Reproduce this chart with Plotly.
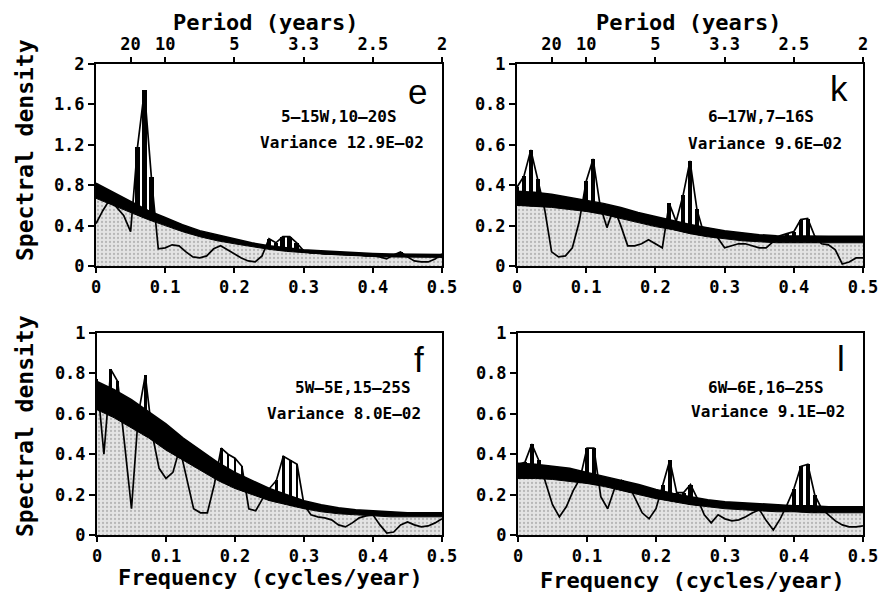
import plotly.graph_objects as go

# ---------------- data ----------------
FREQ = [i / 100 for i in range(51)]          # cycles/year, spectral estimates
BAND_FREQ = [i / 40 for i in range(21)]      # cycles/year, red-noise band

SPEC_E = [0.42, 0.55, 0.66, 0.58, 0.50, 0.34, 1.18, 1.74, 0.88, 0.17,
          0.18, 0.21, 0.20, 0.14, 0.09, 0.08, 0.10, 0.17, 0.20, 0.16,
          0.12, 0.08, 0.05, 0.04, 0.10, 0.27, 0.23, 0.29, 0.29, 0.23,
          0.15, 0.13, 0.13, 0.12, 0.12, 0.12, 0.12, 0.11, 0.11, 0.10,
          0.10, 0.09, 0.07, 0.11, 0.14, 0.09, 0.05, 0.04, 0.04, 0.07,
          0.12]
BAND_HI_E = [0.82, 0.73, 0.64, 0.55, 0.48, 0.41, 0.35, 0.31, 0.27, 0.23, 0.20,
             0.18, 0.16, 0.15, 0.14, 0.13, 0.125, 0.12, 0.12, 0.115, 0.115]
BAND_LO_E = [0.67, 0.60, 0.53, 0.46, 0.40, 0.34, 0.29, 0.25, 0.22, 0.19, 0.165,
             0.145, 0.13, 0.12, 0.11, 0.10, 0.095, 0.09, 0.09, 0.085, 0.085]

SPEC_K = [0.39, 0.445, 0.575, 0.43, 0.28, 0.07, 0.045, 0.05, 0.09, 0.22,
          0.42, 0.53, 0.30, 0.19, 0.29, 0.20, 0.10, 0.10, 0.11, 0.13,
          0.11, 0.09, 0.31, 0.22, 0.35, 0.52, 0.28, 0.16, 0.15, 0.14,
          0.09, 0.10, 0.11, 0.11, 0.10, 0.09, 0.09, 0.12, 0.15, 0.16,
          0.17, 0.23, 0.235, 0.15, 0.11, 0.105, 0.08, 0.01, 0.02, 0.04,
          0.04]
BAND_HI_K = [0.37, 0.365, 0.355, 0.34, 0.325, 0.31, 0.29, 0.265, 0.245, 0.225, 0.205,
             0.19, 0.175, 0.165, 0.155, 0.15, 0.148, 0.147, 0.147, 0.147, 0.147]
BAND_LO_K = [0.30, 0.295, 0.29, 0.28, 0.27, 0.255, 0.235, 0.215, 0.195, 0.18, 0.16,
             0.145, 0.135, 0.125, 0.12, 0.115, 0.115, 0.115, 0.115, 0.115, 0.115]

SPEC_F = [0.77, 0.40, 0.82, 0.76, 0.45, 0.13, 0.60, 0.79, 0.50, 0.33,
          0.28, 0.31, 0.43, 0.28, 0.13, 0.11, 0.11, 0.25, 0.43, 0.40,
          0.38, 0.34, 0.13, 0.12, 0.18, 0.23, 0.27, 0.39, 0.37, 0.35,
          0.15, 0.10, 0.09, 0.085, 0.075, 0.05, 0.04, 0.06, 0.085, 0.095,
          0.10, 0.05, 0.01, 0.015, 0.05, 0.065, 0.05, 0.04, 0.045, 0.06,
          0.08]
BAND_HI_F = [0.76, 0.72, 0.67, 0.61, 0.55, 0.48, 0.42, 0.36, 0.31, 0.27, 0.23,
             0.20, 0.17, 0.15, 0.135, 0.125, 0.12, 0.115, 0.11, 0.11, 0.11]
BAND_LO_F = [0.62, 0.58, 0.53, 0.48, 0.42, 0.37, 0.32, 0.27, 0.23, 0.20, 0.17,
             0.15, 0.13, 0.115, 0.105, 0.10, 0.095, 0.09, 0.09, 0.09, 0.09]

SPEC_L = [0.35, 0.36, 0.45, 0.37, 0.26, 0.15, 0.09, 0.14, 0.22, 0.28,
          0.43, 0.43, 0.19, 0.13, 0.23, 0.27, 0.25, 0.18, 0.11, 0.08,
          0.13, 0.25, 0.37, 0.21, 0.21, 0.25, 0.18, 0.10, 0.06, 0.10,
          0.08, 0.07, 0.075, 0.09, 0.11, 0.125, 0.07, 0.025, 0.08, 0.15,
          0.23, 0.34, 0.35, 0.20, 0.13, 0.10, 0.07, 0.05, 0.04, 0.04,
          0.045]
BAND_HI_L = [0.355, 0.35, 0.34, 0.33, 0.31, 0.29, 0.27, 0.25, 0.225, 0.205, 0.19,
             0.175, 0.165, 0.16, 0.155, 0.15, 0.145, 0.145, 0.14, 0.14, 0.14]
BAND_LO_L = [0.28, 0.28, 0.275, 0.265, 0.255, 0.24, 0.22, 0.20, 0.18, 0.165, 0.15,
             0.14, 0.13, 0.125, 0.12, 0.115, 0.115, 0.11, 0.11, 0.11, 0.11]

FREQ_TICKS = [0, 0.1, 0.2, 0.3, 0.4, 0.5]
FREQ_TICK_TEXT = ["0", "0.1", "0.2", "0.3", "0.4", "0.5"]
PERIOD_TICKS = [0.05, 0.1, 0.2, 0.3, 0.4, 0.5]
PERIOD_TICK_TEXT = ["20", "10", "5", "3.3", "2.5", "2"]
Y_TICKS_E = [0, 0.4, 0.8, 1.2, 1.6, 2]
Y_TICK_TEXT_E = ["0", "0.4", "0.8", "1.2", "1.6", "2"]
Y_TICKS = [0, 0.2, 0.4, 0.6, 0.8, 1]
Y_TICK_TEXT = ["0", "0.2", "0.4", "0.6", "0.8", "1"]

# ---------------- layout helpers ----------------
W, H = 879, 593
def px(x):
    return x / W
def py(y):
    return 1 - y / H

MONO = "DejaVu Sans Mono"
SANS = "Liberation Sans"

panels = [
    dict(key="e", spec=SPEC_E, lo=BAND_LO_E, hi=BAND_HI_E, n=1, top=5, ymax=2,
         yt=Y_TICKS_E, ytt=Y_TICK_TEXT_E, xd=[96, 442], yd=[64, 266], bw=0.007,
         region="5–15W,10–20S", var="Variance 12.9E–02",
         letter_xy=(417, 113), l1=(339, 117), l2=(342, 142)),
    dict(key="k", spec=SPEC_K, lo=BAND_LO_K, hi=BAND_HI_K, n=2, top=6, ymax=1,
         yt=Y_TICKS, ytt=Y_TICK_TEXT, xd=[517, 863], yd=[64, 266], bw=0.006,
         region="6–17W,7–16S", var="Variance 9.6E–02",
         letter_xy=(839, 110), l1=(761, 117), l2=(765, 143)),
    dict(key="f", spec=SPEC_F, lo=BAND_LO_F, hi=BAND_HI_F, n=3, top=None, ymax=1,
         yt=Y_TICKS, ytt=Y_TICK_TEXT, xd=[97, 442], yd=[333, 535], bw=0.004,
         region="5W–5E,15–25S", var="Variance 8.0E–02",
         letter_xy=(419, 381), l1=(353, 387), l2=(344, 413)),
    dict(key="l", spec=SPEC_L, lo=BAND_LO_L, hi=BAND_HI_L, n=4, top=None, ymax=1,
         yt=Y_TICKS, ytt=Y_TICK_TEXT, xd=[518, 863], yd=[333, 535], bw=0.006,
         region="6W–6E,16–25S", var="Variance 9.1E–02",
         letter_xy=(841, 380), l1=(766, 387), l2=(768, 411)),
]

fig = go.Figure()
layout = dict(width=W, height=H, margin=dict(l=0, r=0, t=0, b=0, autoexpand=False),
              paper_bgcolor="white", plot_bgcolor="white", showlegend=False)
annotations = []

tickfont = dict(family=MONO, size=17, color="black", weight="bold")

for p in panels:
    n = p["n"]
    xa = "x" if n == 1 else f"x{n}"
    ya = "y" if n == 1 else f"y{n}"
    # bars (hidden under shading/band except where the spectrum exceeds the band)
    fig.add_trace(go.Bar(x=FREQ, y=p["spec"], width=p["bw"], marker=dict(color="black", line=dict(width=0)),
                         xaxis=xa, yaxis=ya, hoverinfo="skip"))
    # shaded area under the background band
    fig.add_trace(go.Scatter(x=BAND_FREQ, y=p["lo"], mode="lines", line=dict(color="black", width=1),
                             fill="tozeroy", fillcolor="#dedede",
                             fillpattern=dict(shape=".", bgcolor="#e4e4e4", fgcolor="#8a8a8a", size=4, solidity=0.25),
                             xaxis=xa, yaxis=ya, hoverinfo="skip"))
    # thick background band
    fig.add_trace(go.Scatter(x=BAND_FREQ, y=p["hi"], mode="lines", line=dict(color="black", width=1.5),
                             fill="tonexty", fillcolor="black", xaxis=xa, yaxis=ya, hoverinfo="skip"))
    # spectrum line
    sx = f"x{p['top']}" if p["top"] else xa
    fig.add_trace(go.Scatter(x=FREQ, y=p["spec"], mode="lines", line=dict(color="black", width=1.7),
                             xaxis=sx, yaxis=ya, hoverinfo="skip"))

    xname = "xaxis" if n == 1 else f"xaxis{n}"
    yname = "yaxis" if n == 1 else f"yaxis{n}"
    layout[xname] = dict(domain=[px(p["xd"][0]), px(p["xd"][1])], anchor=ya, range=[0, 0.5],
                         tickvals=FREQ_TICKS, ticktext=FREQ_TICK_TEXT, ticks="outside", ticklen=5,
                         tickwidth=1.5, tickcolor="black", showline=True, linewidth=2, linecolor="black",
                         mirror=True, showgrid=False, zeroline=False, tickfont=tickfont, fixedrange=True,
                         automargin=False)
    layout[yname] = dict(domain=[py(p["yd"][1]), py(p["yd"][0])], anchor=xa, range=[0, p["ymax"]],
                         tickvals=p["yt"], ticktext=p["ytt"], ticks="outside", ticklen=6,
                         tickwidth=1.5, tickcolor="black", showline=True, linewidth=2, linecolor="black",
                         mirror=True, showgrid=False, zeroline=False, tickfont=tickfont, fixedrange=True,
                         automargin=False)
    if p["top"]:
        layout[f"xaxis{p['top']}"] = dict(overlaying=xa, anchor=ya, side="top", range=[0, 0.5],
                                          tickvals=PERIOD_TICKS, ticktext=PERIOD_TICK_TEXT, ticks="outside",
                                          ticklen=5, tickwidth=1.5, tickcolor="black", showline=True,
                                          linewidth=2, linecolor="black", showgrid=False, zeroline=False,
                                          tickfont=tickfont, fixedrange=True, automargin=False)

    lx, lyb = p["letter_xy"]
    annotations.append(dict(x=px(lx), y=py(lyb), xref="paper", yref="paper", text=p["key"],
                            showarrow=False, xanchor="center", yanchor="bottom",
                            font=dict(family=SANS, size=35, color="black")))
    annotations.append(dict(x=px(p["l1"][0]), y=py(p["l1"][1]), xref="paper", yref="paper", text=p["region"],
                            showarrow=False, xanchor="center", yanchor="middle",
                            font=dict(family=MONO, size=16, color="black", weight="bold")))
    annotations.append(dict(x=px(p["l2"][0]), y=py(p["l2"][1]), xref="paper", yref="paper", text=p["var"],
                            showarrow=False, xanchor="center", yanchor="middle",
                            font=dict(family=MONO, size=16, color="black", weight="bold")))

title_font = dict(family=MONO, size=22, color="black", weight="bold")
for (x, y) in [(265, 22), (688, 22)]:
    annotations.append(dict(x=px(x), y=py(y), xref="paper", yref="paper", text="Period (years)",
                            showarrow=False, xanchor="center", yanchor="middle", font=title_font))
for (x, y) in [(270, 577), (692, 580)]:
    annotations.append(dict(x=px(x), y=py(y), xref="paper", yref="paper", text="Frequency (cycles/year)",
                            showarrow=False, xanchor="center", yanchor="middle", font=title_font))
for (x, y) in [(25, 150), (25, 426)]:
    annotations.append(dict(x=px(x), y=py(y), xref="paper", yref="paper", text="Spectral density",
                            showarrow=False, xanchor="center", yanchor="middle", textangle=-90,
                            font=dict(family=MONO, size=23, color="black", weight="bold")))

layout["annotations"] = annotations
layout["bargap"] = 0
fig.update_layout(**layout)
fig.write_html("out.html", config={"displayModeBar": False},
               post_script="document.body.style.margin='0';document.body.style.overflow='hidden';")
